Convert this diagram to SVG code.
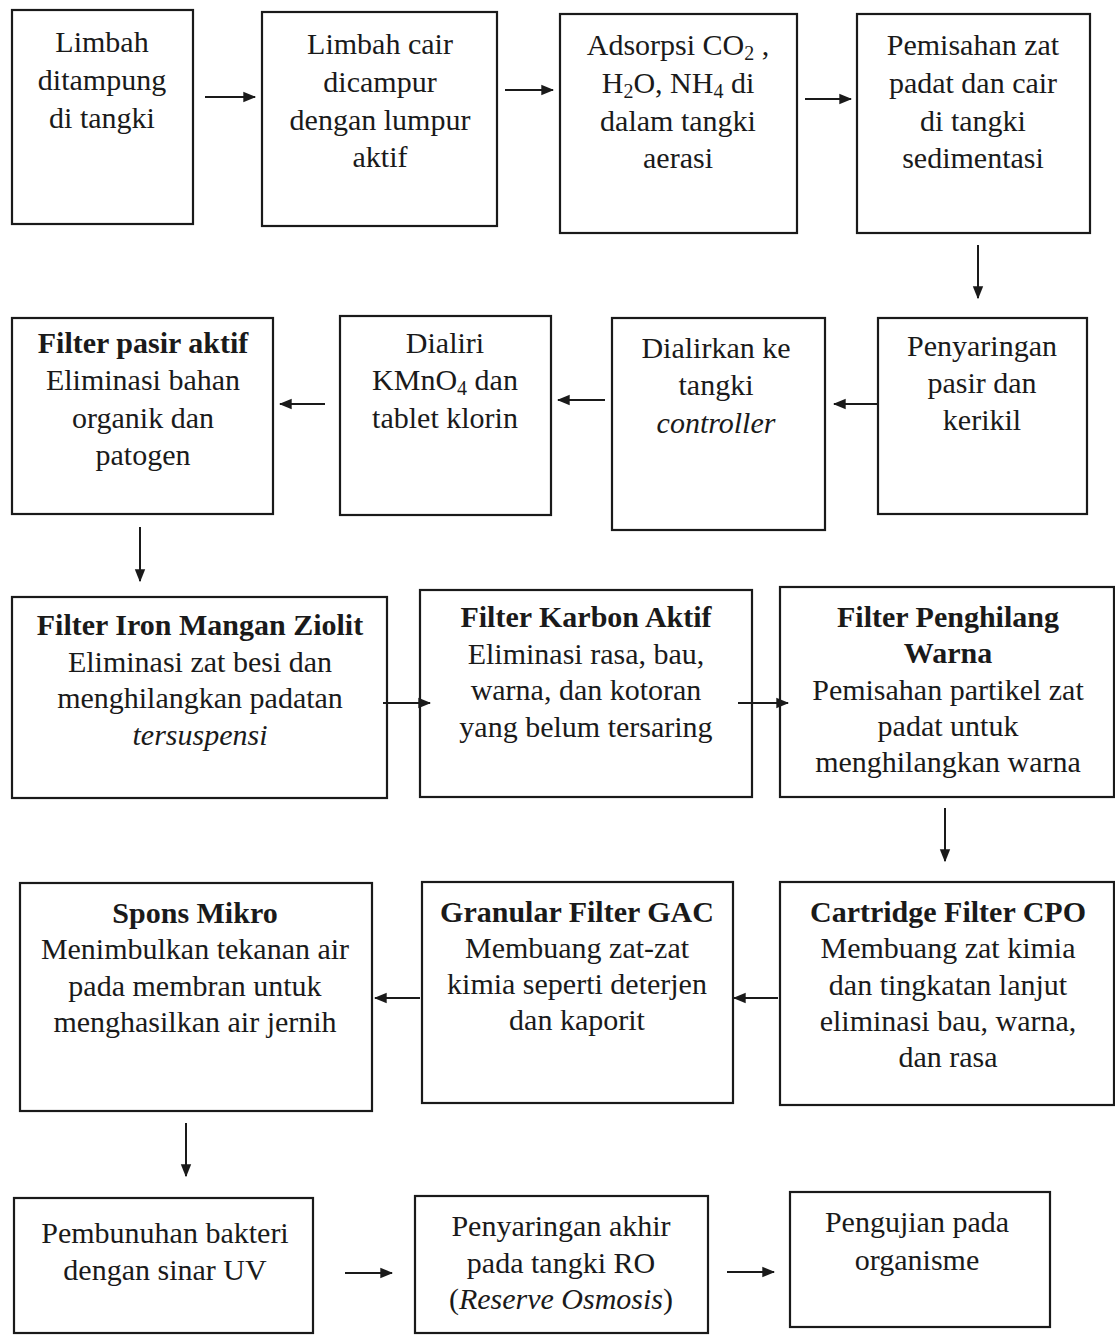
<svg xmlns="http://www.w3.org/2000/svg" width="1115" height="1335" viewBox="0 0 1115 1335">
<style>
.box{fill:#fff;stroke:#1a1a1a;stroke-width:2.2}
text{font-family:"Liberation Serif","Times New Roman",serif;font-size:30px;fill:#1a1a1a;text-anchor:middle}
.b{font-weight:bold}
.i{font-style:italic}
.sub{font-size:20px}
.c line{stroke:#1a1a1a;stroke-width:2}
</style>
<defs>
<marker id="ah" viewBox="0 0 10 10" refX="9" refY="5" markerWidth="13" markerHeight="13" markerUnits="userSpaceOnUse" orient="auto">
<path d="M0,1 L10,5 L0,9 Z" fill="#1a1a1a"/>
</marker>
</defs>
<rect width="1115" height="1335" fill="#fff"/>

<g id="n1"><rect class="box" x="12" y="10" width="181" height="214"/>
<text x="102" y="52">Limbah</text><text x="102" y="90">ditampung</text><text x="102" y="128">di tangki</text></g>

<g id="n2"><rect class="box" x="262" y="12" width="235" height="214"/>
<text x="380" y="54">Limbah cair</text><text x="380" y="92">dicampur</text><text x="380" y="130">dengan lumpur</text><text x="380" y="167">aktif</text></g>

<g id="n3"><rect class="box" x="560" y="14" width="237" height="219"/>
<text x="678" y="55">Adsorpsi CO<tspan class="sub" dy="5">2</tspan><tspan dy="-5"> ,</tspan></text>
<text x="678" y="93">H<tspan class="sub" dy="5">2</tspan><tspan dy="-5">O, NH</tspan><tspan class="sub" dy="5">4</tspan><tspan dy="-5"> di</tspan></text>
<text x="678" y="131">dalam tangki</text><text x="678" y="168">aerasi</text></g>

<g id="n4"><rect class="box" x="857" y="14" width="233" height="219"/>
<text x="973" y="55">Pemisahan zat</text><text x="973" y="93">padat dan cair</text><text x="973" y="131">di tangki</text><text x="973" y="168">sedimentasi</text></g>

<g id="n5"><rect class="box" x="878" y="318" width="209" height="196"/>
<text x="982" y="356">Penyaringan</text><text x="982" y="393">pasir dan</text><text x="982" y="430">kerikil</text></g>

<g id="n6"><rect class="box" x="612" y="318" width="213" height="212"/>
<text x="716" y="358">Dialirkan ke</text><text x="716" y="395">tangki</text><text x="716" y="433" class="i">controller</text></g>

<g id="n7"><rect class="box" x="340" y="316" width="211" height="199"/>
<text x="445" y="353">Dialiri</text>
<text x="445" y="390">KMnO<tspan class="sub" dy="5">4</tspan><tspan dy="-5"> dan</tspan></text>
<text x="445" y="428">tablet klorin</text></g>

<g id="n8"><rect class="box" x="12" y="318" width="261" height="196"/>
<text x="143" y="353" class="b">Filter pasir aktif</text><text x="143" y="390">Eliminasi bahan</text><text x="143" y="428">organik dan</text><text x="143" y="465">patogen</text></g>

<g id="n9"><rect class="box" x="12" y="597" width="375" height="201"/>
<text x="200" y="635" class="b">Filter Iron Mangan Ziolit</text><text x="200" y="672">Eliminasi zat besi dan</text><text x="200" y="708">menghilangkan padatan</text><text x="200" y="745" class="i">tersuspensi</text></g>

<g id="n10"><rect class="box" x="420" y="590" width="332" height="207"/>
<text x="586" y="627" class="b">Filter Karbon Aktif</text><text x="586" y="664">Eliminasi rasa, bau,</text><text x="586" y="700">warna, dan kotoran</text><text x="586" y="737">yang belum tersaring</text></g>

<g id="n11"><rect class="box" x="780" y="587" width="334" height="210"/>
<text x="948" y="627" class="b">Filter Penghilang</text><text x="948" y="663" class="b">Warna</text><text x="948" y="700">Pemisahan partikel zat</text><text x="948" y="736">padat untuk</text><text x="948" y="772">menghilangkan warna</text></g>

<g id="n12"><rect class="box" x="780" y="882" width="334" height="223"/>
<text x="948" y="922" class="b">Cartridge Filter CPO</text><text x="948" y="958">Membuang zat kimia</text><text x="948" y="995">dan tingkatan lanjut</text><text x="948" y="1031">eliminasi bau, warna,</text><text x="948" y="1067">dan rasa</text></g>

<g id="n13"><rect class="box" x="422" y="882" width="311" height="221"/>
<text x="577" y="922" class="b">Granular Filter GAC</text><text x="577" y="958">Membuang zat-zat</text><text x="577" y="994">kimia seperti deterjen</text><text x="577" y="1030">dan kaporit</text></g>

<g id="n14"><rect class="box" x="20" y="883" width="352" height="228"/>
<text x="195" y="923" class="b">Spons Mikro</text><text x="195" y="959">Menimbulkan tekanan air</text><text x="195" y="996">pada membran untuk</text><text x="195" y="1032">menghasilkan air jernih</text></g>

<g id="n15"><rect class="box" x="14" y="1198" width="299" height="135"/>
<text x="165" y="1243">Pembunuhan bakteri</text><text x="165" y="1280">dengan sinar UV</text></g>

<g id="n16"><rect class="box" x="415" y="1196" width="293" height="137"/>
<text x="561" y="1236">Penyaringan akhir</text><text x="561" y="1273">pada tangki RO</text><text x="561" y="1309">(<tspan class="i">Reserve Osmosis</tspan>)</text></g>

<g id="n17"><rect class="box" x="790" y="1192" width="260" height="135"/>
<text x="917" y="1232">Pengujian pada</text><text x="917" y="1270">organisme</text></g>

<g id="connectors" class="c">
<line x1="205" y1="97" x2="255" y2="97" marker-end="url(#ah)"/>
<line x1="505" y1="90" x2="553" y2="90" marker-end="url(#ah)"/>
<line x1="805" y1="99" x2="851" y2="99" marker-end="url(#ah)"/>
<line x1="978" y1="245" x2="978" y2="298" marker-end="url(#ah)"/>
<line x1="878" y1="404" x2="834" y2="404" marker-end="url(#ah)"/>
<line x1="605" y1="400" x2="558" y2="400" marker-end="url(#ah)"/>
<line x1="325" y1="404" x2="280" y2="404" marker-end="url(#ah)"/>
<line x1="140" y1="527" x2="140" y2="581" marker-end="url(#ah)"/>
<line x1="383" y1="703" x2="430" y2="703" marker-end="url(#ah)"/>
<line x1="738" y1="703" x2="788" y2="703" marker-end="url(#ah)"/>
<line x1="945" y1="808" x2="945" y2="861" marker-end="url(#ah)"/>
<line x1="778" y1="998" x2="734" y2="998" marker-end="url(#ah)"/>
<line x1="420" y1="998" x2="375" y2="998" marker-end="url(#ah)"/>
<line x1="186" y1="1123" x2="186" y2="1176" marker-end="url(#ah)"/>
<line x1="345" y1="1273" x2="392" y2="1273" marker-end="url(#ah)"/>
<line x1="727" y1="1272" x2="774" y2="1272" marker-end="url(#ah)"/>
</g>
</svg>
